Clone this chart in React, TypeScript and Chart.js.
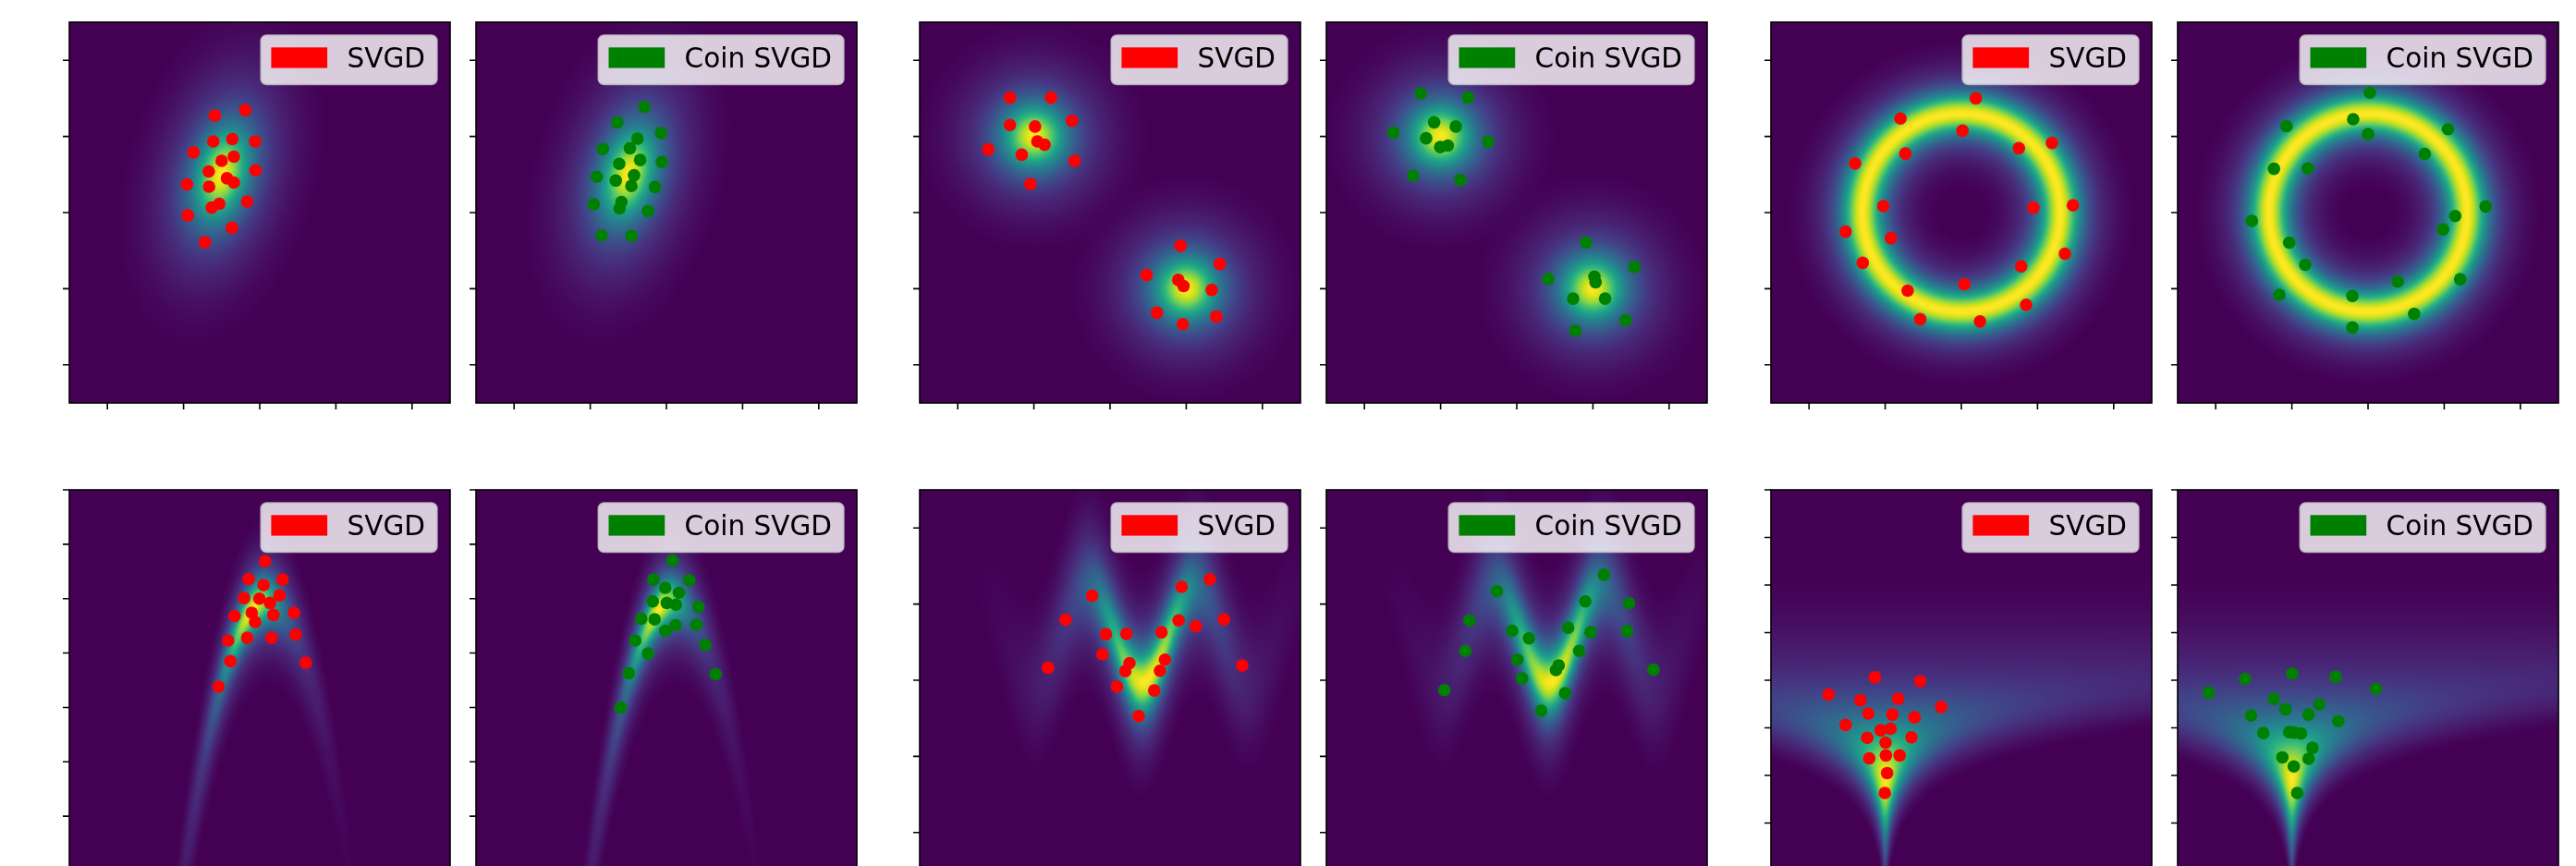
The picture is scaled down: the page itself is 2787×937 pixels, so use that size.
import React, { useEffect, useRef } from "react";
import { Chart, registerables } from "chart.js";

Chart.register(...registerables);

// ---------------- data ----------------
const LABEL_SVGD = "SVGD";
const LABEL_COIN = "Coin SVGD";
const COLOR_SVGD = "#ff0000";
const COLOR_COIN = "#008000";

const svgdGaussian: number[][] = [[-1.18,2.55],[-0.38,2.69],[-1.22,1.87],[-0.72,1.93],[-0.12,1.87],[-1.74,1.58],[-0.68,1.47],[-1.00,1.36],[-1.34,1.08],[-0.11,1.11],[-0.86,0.90],[-0.68,0.79],[-1.91,0.74],[-1.33,0.68],[-0.33,0.29],[-1.06,0.23],[-1.26,0.13],[-1.89,-0.07],[-0.73,-0.40],[-1.44,-0.78]];
const coinGaussian: number[][] = [[-0.58,2.78],[-1.29,2.37],[-0.14,2.09],[-0.76,1.94],[-1.67,1.67],[-0.96,1.69],[-0.69,1.38],[-0.12,1.33],[-1.24,1.28],[-1.83,0.94],[-0.85,0.98],[-1.33,0.84],[-0.92,0.70],[-0.30,0.67],[-1.18,0.28],[-1.23,0.11],[-1.91,0.22],[-0.48,0.04],[-1.70,-0.60],[-0.92,-0.61]];
const svgdMixture: number[][] = [[-2.63,3.02],[-1.55,3.02],[-1.00,2.41],[-2.63,2.30],[-1.97,2.26],[-1.91,1.87],[-1.72,1.78],[-3.20,1.66],[-2.32,1.52],[-0.93,1.36],[-2.09,0.75],[1.85,-0.87],[2.88,-1.35],[0.96,-1.64],[1.79,-1.77],[1.93,-1.93],[2.67,-2.03],[1.23,-2.63],[2.79,-2.73],[1.91,-2.93]];
const coinMixture: number[][] = [[-2.52,3.13],[-1.28,3.02],[-2.17,2.37],[-1.60,2.26],[-3.24,2.10],[-2.38,1.95],[-2.01,1.72],[-1.81,1.76],[-0.75,1.86],[-2.72,0.97],[-1.48,0.86],[1.82,-0.79],[3.09,-1.43],[0.83,-1.74],[2.04,-1.68],[2.07,-1.83],[1.48,-2.26],[2.32,-2.26],[2.86,-2.83],[1.54,-3.10]];
const svgdRing: number[][] = [[0.38,3.00],[-1.60,2.47],[0.03,2.15],[2.38,1.83],[1.51,1.69],[-1.47,1.55],[-2.79,1.29],[-2.05,0.17],[1.89,0.13],[2.93,0.19],[-3.04,-0.50],[-1.85,-0.67],[2.72,-1.08],[-2.59,-1.32],[1.57,-1.41],[0.08,-1.88],[-1.41,-2.05],[1.70,-2.42],[-1.08,-2.80],[0.49,-2.86]];
const coinRing: number[][] = [[0.05,3.15],[-0.39,2.45],[-2.14,2.27],[2.10,2.19],[0.00,2.06],[1.49,1.54],[-2.47,1.15],[-1.58,1.16],[3.09,0.16],[2.29,-0.09],[-3.05,-0.22],[1.97,-0.44],[-2.07,-0.79],[-1.65,-1.37],[2.42,-1.75],[0.78,-1.81],[-2.33,-2.16],[-0.41,-2.19],[1.21,-2.66],[-0.41,-3.02]];
const svgdBanana: number[][] = [[0.14,2.69],[-0.29,2.36],[0.60,2.35],[0.10,2.25],[0.52,2.06],[-0.41,2.01],[-0.01,2.00],[0.27,1.92],[-0.66,1.68],[-0.21,1.74],[0.36,1.70],[0.90,1.74],[-0.12,1.57],[-0.83,1.23],[-0.33,1.28],[0.31,1.28],[0.94,1.34],[-0.77,0.85],[1.21,0.82],[-1.08,0.38]];
const coinBanana: number[][] = [[0.16,2.70],[-0.34,2.35],[0.60,2.34],[-0.03,2.20],[0.33,2.11],[-0.36,1.95],[0.01,1.92],[0.25,1.89],[0.84,1.85],[-0.66,1.63],[-0.31,1.62],[0.24,1.51],[-0.03,1.41],[0.79,1.52],[-0.82,1.23],[-0.48,0.99],[1.02,1.15],[-0.99,0.63],[1.29,0.61],[-1.20,0.00]];
const svgdWave: number[][] = [[-0.47,2.22],[1.88,2.45],[2.62,2.65],[-1.17,1.59],[1.80,1.57],[2.99,1.60],[2.25,1.42],[-0.11,1.21],[0.43,1.22],[1.35,1.26],[-0.20,0.68],[1.44,0.54],[0.51,0.45],[0.40,0.24],[1.31,0.25],[-1.63,0.33],[3.47,0.39],[0.18,-0.17],[1.16,-0.27],[0.75,-0.94]];
const coinWave: number[][] = [[2.29,2.77],[-0.52,2.34],[1.80,2.07],[2.95,2.02],[-1.24,1.57],[-0.12,1.30],[0.32,1.10],[1.35,1.38],[1.94,1.26],[2.90,1.29],[-1.35,0.77],[1.64,0.77],[0.02,0.54],[1.10,0.39],[1.03,0.27],[0.14,0.05],[3.59,0.28],[-1.90,-0.26],[1.27,-0.34],[0.64,-0.80]];
const svgdFunnel: number[][] = [[-2.27,0.06],[-1.08,-0.02],[-3.49,-0.30],[-2.65,-0.42],[-1.66,-0.39],[-0.53,-0.56],[-2.44,-0.70],[-1.81,-0.72],[-1.23,-0.78],[-3.04,-0.94],[-2.12,-1.05],[-1.86,-1.02],[-2.47,-1.21],[-1.31,-1.20],[-1.99,-1.31],[-2.42,-1.64],[-1.98,-1.58],[-1.62,-1.58],[-1.95,-1.95],[-2.01,-2.37]];
const coinFunnel: number[][] = [[-1.99,0.14],[-3.23,0.03],[-0.85,0.07],[-4.18,-0.26],[0.21,-0.18],[-2.47,-0.39],[-1.28,-0.51],[-2.17,-0.61],[-3.07,-0.74],[-1.56,-0.72],[-0.78,-0.86],[-2.75,-1.11],[-2.07,-1.09],[-1.76,-1.12],[-1.94,-1.10],[-1.46,-1.42],[-2.25,-1.62],[-1.56,-1.65],[-1.95,-1.81],[-1.86,-2.37]];

// axis ranges and tick values
const RANGE_STD = [-5, 5];
const TICKS_STD = [-4, -2, 0, 2, 4];
const RANGE_BANANA_Y = [-3, 4];
const TICKS_BANANA_Y = [-3, -2, -1, 0, 1, 2, 3, 4];
const RANGE_FUNNEL_Y = [-4, 4];
const TICKS_FUNNEL_Y = [-4, -3, -2, -1, 0, 1, 2, 3, 4];

// target density parameters
const GAUSS_MEAN = [-1.0, 1.0];
const GAUSS_SD = [0.52, 0.86];
const GAUSS_RHO = 0.3;
const MIX_MEANS = [[-2, 2], [2, -2]];
const MIX_SD = 0.58;
const RING_RADIUS = 2.6;
const RING_SD = 0.37;
// apexX, apexY, curvature, sdAcross, meanX, sdX
const BANANA_PARAMS = [0.2, 1.96, 1.02, 0.3, -0.2, 0.52];
// baseY, amplitude, period, valleyX, sdAcross, meanX, sdX
const WAVE_PARAMS = [1.19, 1.25, 2.9, 0.83, 0.58, 0.95, 0.85];
// centerX, meanY, sdY, width0, widthRefY, growth
const FUNNEL_PARAMS = [-2.0, -1.21, 0.81, 0.3, -2.16, 1.3];
// colour scaling of the density field: tail parameter and floor
const FIELD_TAIL = 1.5;
const FIELD_FLOOR = 0.03;

// viridis colour stops
const VIRIDIS = [
  [68, 1, 84], [72, 26, 108], [71, 45, 123], [66, 64, 134], [59, 82, 139],
  [51, 99, 141], [44, 114, 142], [38, 130, 142], [33, 145, 140], [31, 160, 136],
  [40, 174, 128], [62, 188, 116], [94, 201, 98], [132, 212, 75], [173, 220, 48],
  [216, 226, 25], [253, 231, 37],
];

// ---------------- densities ----------------
type LogDensity = (x: number, y: number) => number;
const TARGETS: Record<string, LogDensity> = {
  gaussian: (x, y) => {
    const dx = (x - GAUSS_MEAN[0]) / GAUSS_SD[0];
    const dy = (y - GAUSS_MEAN[1]) / GAUSS_SD[1];
    const r = GAUSS_RHO;
    return -(dx * dx - 2 * r * dx * dy + dy * dy) / (2 * (1 - r * r));
  },
  mixture: (x, y) => {
    let s = 0;
    for (const m of MIX_MEANS) {
      const d2 = (x - m[0]) ** 2 + (y - m[1]) ** 2;
      s += Math.exp(-d2 / (2 * MIX_SD * MIX_SD));
    }
    return Math.log(s + 1e-300);
  },
  ring: (x, y) => {
    const r = Math.sqrt(x * x + y * y);
    return -((r - RING_RADIUS) ** 2) / (2 * RING_SD * RING_SD);
  },
  banana: (x, y) => {
    const [ax, ay, k, s, mx, sx] = BANANA_PARAMS;
    const ridge = ay - k * (x - ax) ** 2;
    return -((x - mx) ** 2) / (2 * sx * sx) - ((y - ridge) ** 2) / (2 * s * s);
  },
  wave: (x, y) => {
    const [b, a, p, xv, s, mx, sx] = WAVE_PARAMS;
    const ridge = b - a * Math.cos((2 * Math.PI * (x - xv)) / p);
    return -((x - mx) ** 2) / (2 * sx * sx) - ((y - ridge) ** 2) / (2 * s * s);
  },
  funnel: (x, y) => {
    const [cx, my, sy, w0, yr, g] = FUNNEL_PARAMS;
    const w = w0 * Math.exp(g * (y - yr));
    return -((y - my) ** 2) / (2 * sy * sy) - Math.log(w) - ((x - cx) ** 2) / (2 * w * w);
  },
};

function viridis(t: number): [number, number, number] {
  const v = Math.max(0, Math.min(1, t)) * (VIRIDIS.length - 1);
  const i = Math.min(VIRIDIS.length - 2, Math.floor(v));
  const f = v - i;
  const a = VIRIDIS[i], b = VIRIDIS[i + 1];
  return [a[0] + (b[0] - a[0]) * f, a[1] + (b[1] - a[1]) * f, a[2] + (b[2] - a[2]) * f];
}

// ---------------- layout ----------------
const PANEL_SIZE = 412;
const PAD = 14;
const COL_LEFT = [75, 515, 995, 1435, 1916, 2356];
const ROW_TOP = [24, 530];

type PanelCfg = {
  row: number; col: number; target: string; points: number[][];
  label: string; color: string; yRange: number[]; yTicks: number[];
};

const PANELS: PanelCfg[] = [
  { row: 0, col: 0, target: "gaussian", points: svgdGaussian, label: LABEL_SVGD, color: COLOR_SVGD, yRange: RANGE_STD, yTicks: TICKS_STD },
  { row: 0, col: 1, target: "gaussian", points: coinGaussian, label: LABEL_COIN, color: COLOR_COIN, yRange: RANGE_STD, yTicks: TICKS_STD },
  { row: 0, col: 2, target: "mixture", points: svgdMixture, label: LABEL_SVGD, color: COLOR_SVGD, yRange: RANGE_STD, yTicks: TICKS_STD },
  { row: 0, col: 3, target: "mixture", points: coinMixture, label: LABEL_COIN, color: COLOR_COIN, yRange: RANGE_STD, yTicks: TICKS_STD },
  { row: 0, col: 4, target: "ring", points: svgdRing, label: LABEL_SVGD, color: COLOR_SVGD, yRange: RANGE_STD, yTicks: TICKS_STD },
  { row: 0, col: 5, target: "ring", points: coinRing, label: LABEL_COIN, color: COLOR_COIN, yRange: RANGE_STD, yTicks: TICKS_STD },
  { row: 1, col: 0, target: "banana", points: svgdBanana, label: LABEL_SVGD, color: COLOR_SVGD, yRange: RANGE_BANANA_Y, yTicks: TICKS_BANANA_Y },
  { row: 1, col: 1, target: "banana", points: coinBanana, label: LABEL_COIN, color: COLOR_COIN, yRange: RANGE_BANANA_Y, yTicks: TICKS_BANANA_Y },
  { row: 1, col: 2, target: "wave", points: svgdWave, label: LABEL_SVGD, color: COLOR_SVGD, yRange: RANGE_STD, yTicks: TICKS_STD },
  { row: 1, col: 3, target: "wave", points: coinWave, label: LABEL_COIN, color: COLOR_COIN, yRange: RANGE_STD, yTicks: TICKS_STD },
  { row: 1, col: 4, target: "funnel", points: svgdFunnel, label: LABEL_SVGD, color: COLOR_SVGD, yRange: RANGE_FUNNEL_Y, yTicks: TICKS_FUNNEL_Y },
  { row: 1, col: 5, target: "funnel", points: coinFunnel, label: LABEL_COIN, color: COLOR_COIN, yRange: RANGE_FUNNEL_Y, yTicks: TICKS_FUNNEL_Y },
];

function roundRect(ctx: CanvasRenderingContext2D, x: number, y: number, w: number, h: number, r: number) {
  ctx.beginPath();
  ctx.moveTo(x + r, y);
  ctx.lineTo(x + w - r, y);
  ctx.arcTo(x + w, y, x + w, y + r, r);
  ctx.lineTo(x + w, y + h - r);
  ctx.arcTo(x + w, y + h, x + w - r, y + h, r);
  ctx.lineTo(x + r, y + h);
  ctx.arcTo(x, y + h, x, y + h - r, r);
  ctx.lineTo(x, y + r);
  ctx.arcTo(x, y, x + r, y, r);
  ctx.closePath();
}

function makePlugin(cfg: PanelCfg) {
  return {
    id: "panelDecor",
    beforeDatasetsDraw(chart: any) {
      const { ctx, chartArea: a } = chart;
      const xs = chart.scales.x, ys = chart.scales.y;
      const w = Math.round(a.right - a.left), h = Math.round(a.bottom - a.top);
      const f = TARGETS[cfg.target];
      const lp = new Float64Array(w * h);
      let mx = -Infinity;
      const xv = new Float64Array(w);
      for (let i = 0; i < w; i++) xv[i] = xs.getValueForPixel(a.left + i + 0.5);
      for (let j = 0; j < h; j++) {
        const y = ys.getValueForPixel(a.top + j + 0.5);
        for (let i = 0; i < w; i++) {
          const v = f(xv[i], y);
          lp[j * w + i] = v;
          if (v > mx) mx = v;
        }
      }
      const img = ctx.createImageData(w, h);
      for (let k = 0; k < w * h; k++) {
        const t0 = Math.pow(1 + (mx - lp[k]) / FIELD_TAIL, -FIELD_TAIL);
        const t = (t0 - FIELD_FLOOR) / (1 - FIELD_FLOOR);
        const c = viridis(t);
        img.data[4 * k] = c[0];
        img.data[4 * k + 1] = c[1];
        img.data[4 * k + 2] = c[2];
        img.data[4 * k + 3] = 255;
      }
      ctx.putImageData(img, Math.round(a.left), Math.round(a.top));
    },
    afterDatasetsDraw(chart: any) {
      const { ctx, chartArea: a } = chart;
      const xs = chart.scales.x, ys = chart.scales.y;
      ctx.save();
      ctx.strokeStyle = "#000";
      ctx.lineWidth = 1.6;
      ctx.beginPath();
      for (const v of cfg.yTicks) {
        const py = ys.getPixelForValue(v);
        ctx.moveTo(a.left - 7, py);
        ctx.lineTo(a.left, py);
      }
      for (const v of TICKS_STD) {
        const px = xs.getPixelForValue(v);
        ctx.moveTo(px, a.bottom);
        ctx.lineTo(px, a.bottom + 7);
      }
      ctx.stroke();
      ctx.strokeRect(a.left, a.top, a.right - a.left, a.bottom - a.top);
      ctx.restore();
    },
    afterDraw(chart: any) {
      const { ctx, chartArea: a } = chart;
      ctx.save();
      ctx.font = '29.5px "DejaVu Sans"';
      const tw = ctx.measureText(cfg.label).width;
      const boxW = 93.1 + tw + 12.7;
      const boxH = 53;
      const bx = a.right - 14.3 - boxW;
      const by = a.top + 14.3;
      roundRect(ctx, bx, by, boxW, boxH, 6);
      ctx.fillStyle = "rgba(255,255,255,0.8)";
      ctx.fill();
      ctx.strokeStyle = "rgba(204,204,204,0.8)";
      ctx.lineWidth = 2;
      ctx.stroke();
      ctx.fillStyle = cfg.color;
      ctx.fillRect(bx + 11, by + 13, 60.7, 22.3);
      ctx.fillStyle = "#000";
      ctx.textBaseline = "alphabetic";
      ctx.fillText(cfg.label, bx + 93.1, by + 34.5);
      ctx.restore();
    },
  };
}

function Panel({ cfg }: { cfg: PanelCfg }) {
  const ref = useRef<HTMLCanvasElement>(null);
  useEffect(() => {
    const canvas = ref.current!;
    const chart = new Chart(canvas, {
      type: "scatter",
      data: {
        datasets: [
          {
            label: cfg.label,
            data: cfg.points.map(([x, y]) => ({ x, y })),
            backgroundColor: cfg.color,
            borderColor: cfg.color,
            borderWidth: 0,
            pointRadius: 6.8,
            pointHoverRadius: 6.8,
          },
        ],
      },
      options: {
        animation: false,
        responsive: false,
        maintainAspectRatio: false,
        events: [],
        layout: { padding: PAD },
        plugins: { legend: { display: false }, tooltip: { enabled: false } },
        scales: {
          x: { type: "linear", min: RANGE_STD[0], max: RANGE_STD[1], display: false },
          y: { type: "linear", min: cfg.yRange[0], max: cfg.yRange[1], display: false },
        },
      },
      plugins: [makePlugin(cfg)],
    } as any);
    return () => chart.destroy();
  }, [cfg]);
  const size = PANEL_SIZE + 2 * PAD;
  return (
    <canvas
      ref={ref}
      width={size}
      height={size}
      style={{
        position: "absolute",
        left: COL_LEFT[cfg.col] - PAD,
        top: ROW_TOP[cfg.row] - PAD,
        width: size,
        height: size,
      }}
    />
  );
}

export default function App() {
  return (
    <div
      style={{
        position: "absolute",
        left: 0,
        top: 0,
        width: 2787,
        height: 937,
        overflow: "hidden",
        background: "#ffffff",
      }}
    >
      {PANELS.map((p, i) => (
        <Panel key={i} cfg={p} />
      ))}
    </div>
  );
}
